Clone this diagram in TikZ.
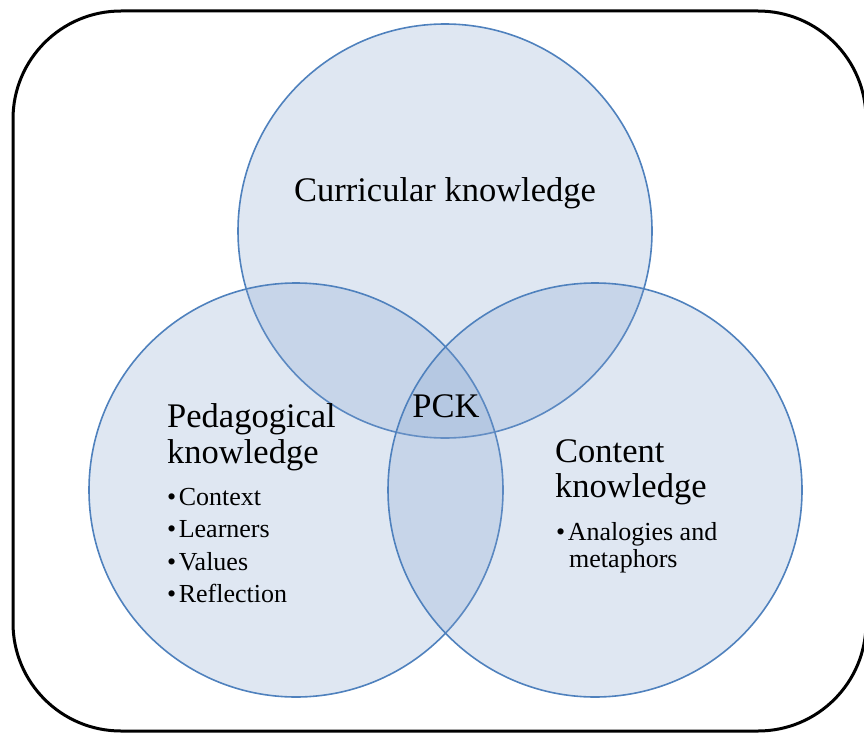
\documentclass[tikz,border=0pt]{standalone}
\usepackage{fontspec}
\setmainfont{Liberation Serif}
\definecolor{vennline}{RGB}{79,129,189}
\definecolor{vennfill}{RGB}{127,160,205}
\tikzset{
  venn/.style={draw=vennline, line width=1.6pt, fill=vennfill, fill opacity=0.25},
  heading/.style={anchor=base west, inner sep=0pt, font=\fontsize{34.5}{36}\selectfont},
  item/.style={anchor=base west, inner sep=0pt, font=\fontsize{26}{28}\selectfont}
}
\newcommand{\bul}{\textbullet\hspace{2.5pt}}
\begin{document}
\begin{tikzpicture}[x=1pt,y=-1pt]
  \useasboundingbox (0,0) rectangle (864,733);
  % frame
  \draw[line width=3pt, rounded corners=108pt] (13,11) rectangle (866,731);
  % the three circles
  \draw[venn] (445,231) circle (207);
  \draw[venn] (296,490) circle (207);
  \draw[venn] (595,490) circle (207);
  % labels
  \node[heading, anchor=base] (curr) at (445,201) {Curricular knowledge};
  \node[heading, anchor=base] (pck) at (446,417) {PCK};

  \node[heading] (ped1) at (167,427) {Pedagogical};
  \node[heading] (ped2) at (167,463) {knowledge};
  \node[item] (ctx) at (167,505) {\bul Context};
  \node[item] (lrn) at (167,537) {\bul Learners};
  \node[item] (val) at (167,570) {\bul Values};
  \node[item] (ref) at (167,602) {\bul Reflection};

  \node[heading] (con1) at (555,462) {Content};
  \node[heading] (con2) at (555,497) {knowledge};
  \node[item] (ana) at (556,540) {\bul Analogies and};
  \node[item] (met) at (569,567) {metaphors};
\end{tikzpicture}
\end{document}
